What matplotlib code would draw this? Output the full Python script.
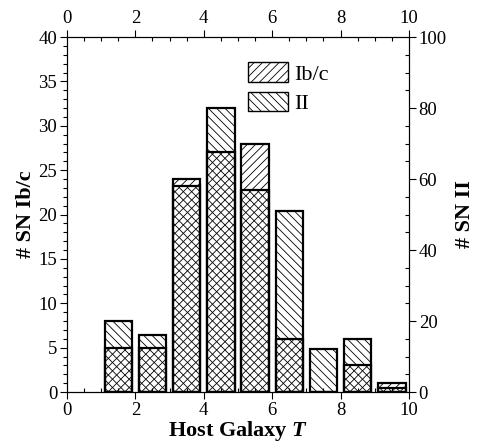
"""Stacked-overlap histogram of SN Ib/c and SN II host galaxy types."""

import matplotlib

matplotlib.use("Agg")
import matplotlib.pyplot as plt
from matplotlib.patches import Patch
from matplotlib.ticker import MultipleLocator

# host galaxy T bins (bar centres) and counts per bin
host_t = [1.5, 2.5, 3.5, 4.5, 5.5, 6.5, 7.5, 8.5, 9.5]
sn_ibc = [5, 5, 24, 27, 28, 6, 0, 3, 1]
sn_ii = [20, 16, 58, 80, 57, 51, 12, 15, 1]

plt.rcParams["font.family"] = ["Liberation Serif", "DejaVu Serif"]
plt.rcParams["mathtext.fontset"] = "custom"
plt.rcParams["mathtext.rm"] = "Liberation Serif"
plt.rcParams["mathtext.bfit"] = "Liberation Serif:bold:italic"
plt.rcParams["hatch.linewidth"] = 0.6

fig = plt.figure(figsize=(4.8, 4.46), dpi=100)
ax = fig.add_axes([0.1396, 0.121, 0.7124, 0.796])
ax2 = ax.twinx()

bar_kw = dict(width=0.8, fill=False, edgecolor="black", linewidth=1.6)
ax2.bar(host_t, sn_ii, hatch="\\\\\\\\", **bar_kw)
ax.bar(host_t, sn_ibc, hatch="////", **bar_kw)

ax.set_xlim(0, 10)
ax.set_ylim(0, 40)
ax2.set_ylim(0, 100)

ax.xaxis.set_major_locator(MultipleLocator(2))
ax.xaxis.set_minor_locator(MultipleLocator(0.5))
ax.yaxis.set_major_locator(MultipleLocator(5))
ax.yaxis.set_minor_locator(MultipleLocator(1))
ax2.yaxis.set_major_locator(MultipleLocator(20))
ax2.yaxis.set_minor_locator(MultipleLocator(5))

ax.tick_params(axis="x", which="both", top=True, labeltop=True, labelsize=13.5,
               pad=2, width=0.8)
ax.tick_params(axis="x", which="major", direction="out", length=5)
ax.tick_params(axis="x", which="minor", direction="in", length=3)
ax.tick_params(axis="y", which="major", direction="out", length=5,
               labelsize=13.5, pad=2, width=0.8)
ax.tick_params(axis="y", which="minor", direction="out", length=3, width=0.8)
ax2.tick_params(axis="y", which="major", direction="out", length=5,
                labelsize=13.5, pad=2, width=0.8)
ax2.tick_params(axis="y", which="minor", direction="in", length=3, width=0.8)

for spine in list(ax.spines.values()) + list(ax2.spines.values()):
    spine.set_linewidth(0.8)

ax.set_xlabel(r"Host Galaxy $\mathbfit{T}$", fontsize=16, fontweight="bold",
              labelpad=0)
ax.set_ylabel("# SN Ib/c", fontsize=16, fontweight="bold", labelpad=2)
ax2.set_ylabel("# SN II", fontsize=16, fontweight="bold", labelpad=6,
               rotation=90)

handles = [
    Patch(facecolor="white", edgecolor="black", hatch="////", linewidth=1.0),
    Patch(facecolor="white", edgecolor="black", hatch="\\\\\\\\", linewidth=1.0),
]
ax.legend(handles, ["Ib/c", "II"], loc="upper left",
          bbox_to_anchor=(0.47, 0.985), frameon=False, fontsize=16,
          handlelength=1.8, handleheight=1.0, handletextpad=0.3,
          labelspacing=0.3)

fig.savefig("out.png", dpi=100)
